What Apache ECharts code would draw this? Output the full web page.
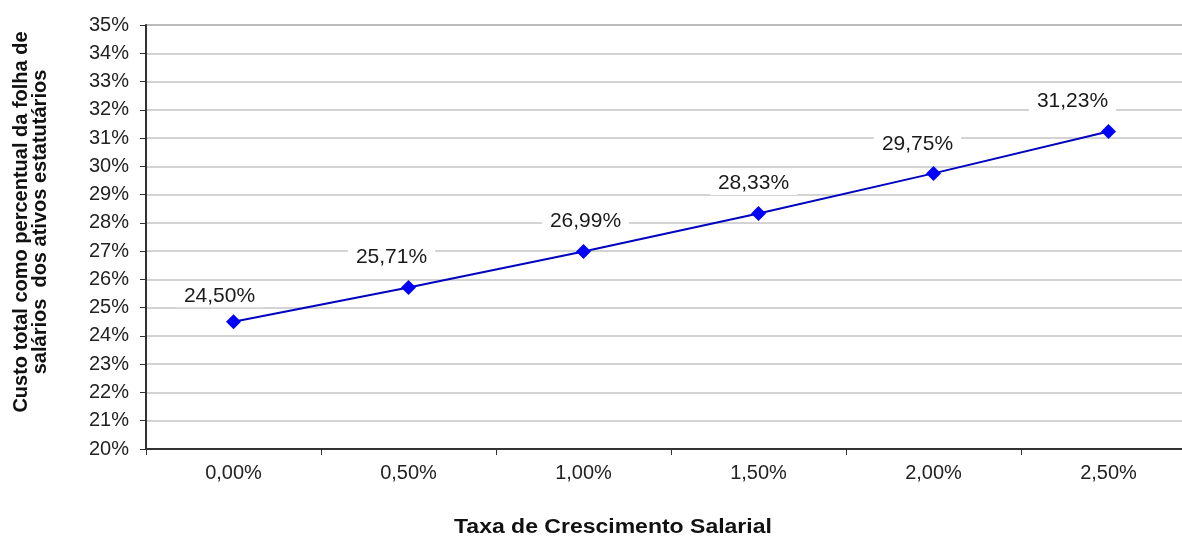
<!DOCTYPE html>
<html>
<head>
<meta charset="utf-8">
<script src="https://cdn.jsdelivr.net/npm/echarts@6/dist/echarts.min.js"></script>
<style>
  html, body { margin: 0; padding: 0; background: #fff; overflow: hidden; }
  /* wider than the window: the original picture is cropped on the right */
  #chart { width: 1196px; height: 543px; }
</style>
</head>
<body>
<div id="chart"></div>
<script>
const categories = ['0,00%', '0,50%', '1,00%', '1,50%', '2,00%', '2,50%']
const custo = [24.50, 25.71, 26.99, 28.33, 29.75, 31.23]
const yMin = 20
const yMax = 35

const fmt = v => v.toFixed(2).replace('.', ',') + '%'
const font = 'Liberation Sans, Arial, sans-serif'
// hand-placed labels in the original
const labelShift = [[-14, -26], [-17, -30], [2, -30], [-5, -30], [-16, -29], [-36, -30]]

const chart = echarts.init(document.getElementById('chart'))
chart.setOption({
  animation: false,
  textStyle: { fontFamily: font },
  grid: { left: 146, right: 0, top: 25, bottom: 94, show: true, borderColor: '#7f7f7f', borderWidth: 1.5 },
  xAxis: {
    type: 'category',
    data: categories,
    boundaryGap: true,
    axisLine: { lineStyle: { color: '#333', width: 2 } },
    axisTick: { show: true, length: 6, lineStyle: { color: '#333' } },
    axisLabel: { color: '#222', fontSize: 20, margin: 14 },
    splitLine: { show: false }
  },
  yAxis: {
    type: 'value',
    min: yMin,
    max: yMax,
    interval: 1,
    axisLine: { show: true, lineStyle: { color: '#333', width: 2 } },
    axisTick: { show: true, length: 6, lineStyle: { color: '#333' } },
    axisLabel: { color: '#222', fontSize: 20, margin: 17, formatter: v => v + '%' },
    splitLine: { lineStyle: { color: '#c4c4c4', width: 1.5 } }
  },
  graphic: [
    {
      type: 'text',
      x: 454,
      y: 517,
      scaleX: 1.15,
      style: { text: 'Taxa de Crescimento Salarial', fontSize: 20, fontWeight: 'bold', fill: '#111', fontFamily: font }
    },
    {
      type: 'text',
      x: 31,
      y: 222,
      rotation: Math.PI / 2,
      style: {
        text: 'Custo total como percentual da folha de\nsalários  dos ativos estatutários',
        fontSize: 20,
        fontWeight: 'bold',
        fill: '#111',
        align: 'center',
        verticalAlign: 'middle',
        lineHeight: 19,
        fontFamily: font
      }
    }
  ],
  series: [
    {
      type: 'line',
      data: custo.map((v, i) => ({
        value: v,
        label: { offset: labelShift[i] }
      })),
      symbol: 'diamond',
      symbolSize: 15,
      lineStyle: { color: '#0000c0', width: 2 },
      itemStyle: { color: '#0000ff' },
      z: 3,
      label: {
        show: true,
        position: 'inside',
        fontSize: 21,
        color: '#1a1a1a',
        backgroundColor: '#fff',
        padding: [1, 8],
        formatter: p => fmt(p.value)
      }
    }
  ]
})
window.addEventListener('resize', function () {
  chart && chart.resize()
})
</script>
</body>
</html>
